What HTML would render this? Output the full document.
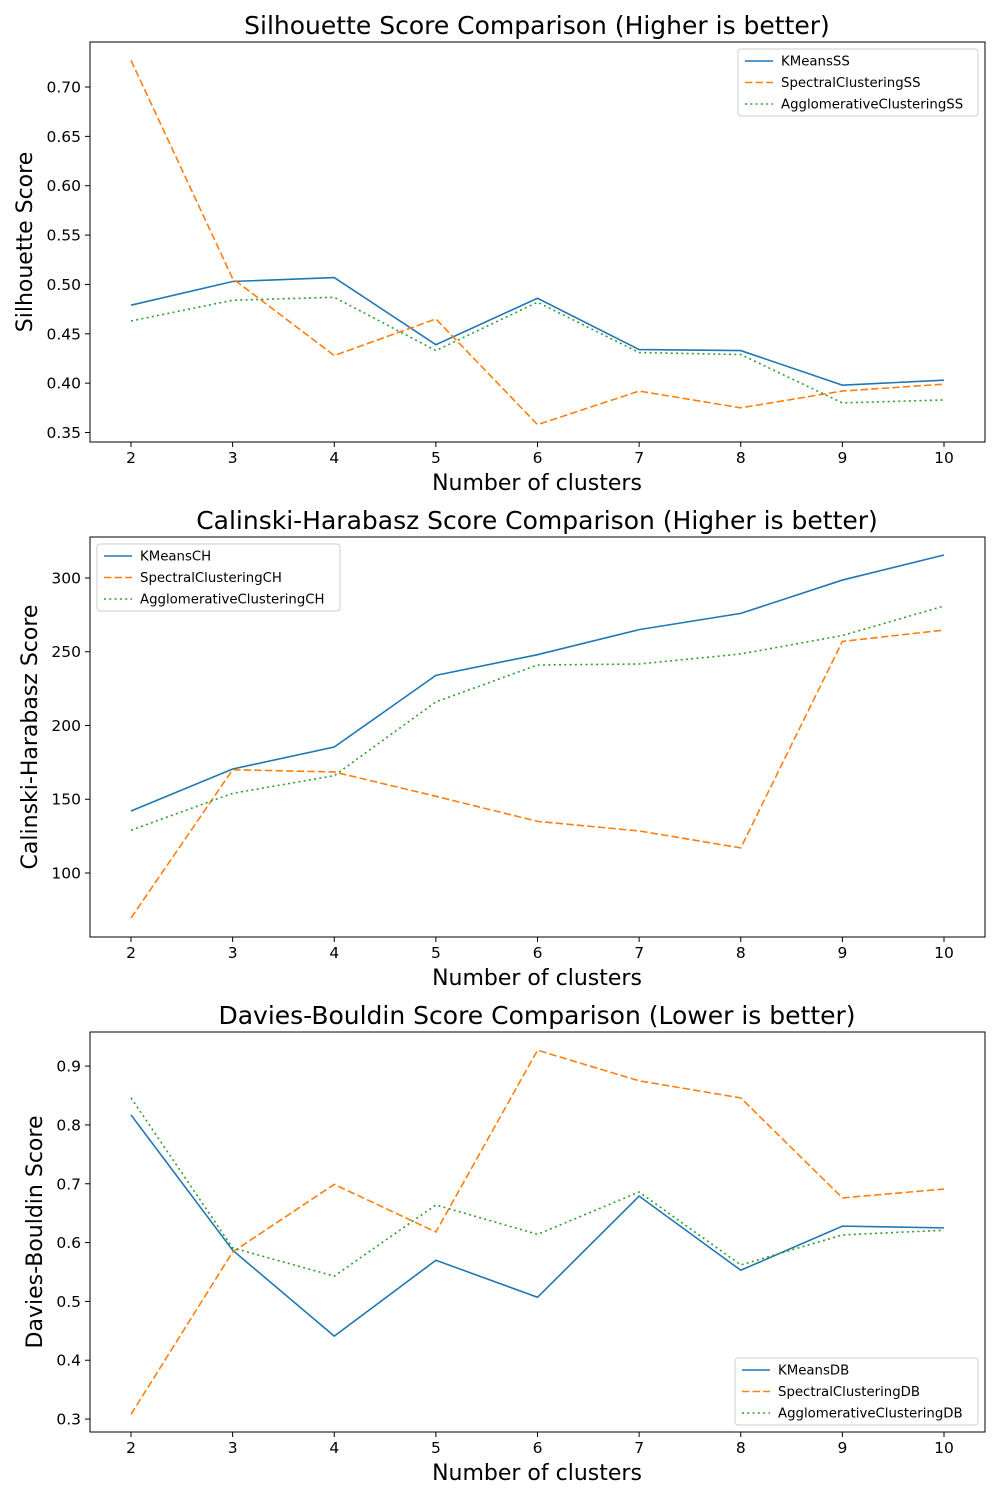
<!DOCTYPE html>
<html><head><meta charset="utf-8"><style>
body{margin:0;background:#fff;font-family:"Liberation Sans","DejaVu Sans",sans-serif}
svg text{font-family:"DejaVu Sans","Liberation Sans",sans-serif}
</style></head><body>
<svg id="fig" width="1000" height="1500" xmlns="http://www.w3.org/2000/svg"></svg>
<script>
const clusters=[2,3,4,5,6,7,8,9,10];
const ssKMeans=[0.479,0.503,0.507,0.439,0.486,0.434,0.433,0.398,0.403];
const ssSpectral=[0.727,0.506,0.428,0.465,0.358,0.392,0.375,0.392,0.399];
const ssAgglo=[0.463,0.484,0.487,0.433,0.482,0.431,0.429,0.380,0.383];
const chKMeans=[142,170.5,185.4,234,248,265,276,298.6,315.6];
const chSpectral=[69.5,170,168.5,152,135,128.5,117,257,264.7];
const chAgglo=[129,154,166,216,241,241.7,248.5,261,281];
const dbKMeans=[0.817,0.587,0.441,0.570,0.507,0.679,0.553,0.628,0.625];
const dbSpectral=[0.308,0.584,0.699,0.618,0.927,0.875,0.846,0.676,0.691];
const dbAgglo=[0.846,0.591,0.543,0.664,0.614,0.686,0.562,0.613,0.621];
const ssTicks=[0.35,0.40,0.45,0.50,0.55,0.60,0.65,0.70];
const chTicks=[100,150,200,250,300];
const dbTicks=[0.3,0.4,0.5,0.6,0.7,0.8,0.9];

const NS="http://www.w3.org/2000/svg";
const fig=document.getElementById('fig');
function mk(tag,attrs,parent){const e=document.createElementNS(NS,tag);for(const k in attrs)e.setAttribute(k,attrs[k]);(parent||fig).appendChild(e);return e;}
const colors=['#1f77b4','#ff7f0e','#2ca02c'];
const dashes=['','7.4,3.2','2,3.3'];
function chart(cfg){
  const L=90,R=985,T=cfg.top,B=cfg.top+400;
  const g=mk('g',{});
  
  
  const xs=v=>131+(v-2)*(944-131)/8;
  const ys=v=>B-(v-cfg.ymin)/(cfg.ymax-cfg.ymin)*(B-T);
  const t=mk('text',{x:537,y:T-8,'text-anchor':'middle','font-size':25},g);t.textContent=cfg.title;
  
  clusters.forEach(c=>{mk('line',{x1:xs(c),x2:xs(c),y1:B,y2:B+5,stroke:'#000'},g);
    const tx=mk('text',{x:xs(c),y:B+21,'text-anchor':'middle','font-size':15.5},g);tx.textContent=c;
    });
  cfg.ticks.forEach(v=>{mk('line',{x1:L-5,x2:L,y1:ys(v),y2:ys(v),stroke:'#000'},g);
    const ty=mk('text',{x:L-9,y:ys(v)+5.5,'text-anchor':'end','font-size':15.5},g);ty.textContent=cfg.fmt(v);
    });
  const xl=mk('text',{x:537,y:B+48,'text-anchor':'middle','font-size':22},g);xl.textContent='Number of clusters';
  
  const yl=mk('text',{x:0,y:0,'text-anchor':'middle','font-size':22,transform:`translate(${cfg.ylx},${(T+B)/2}) rotate(-90)`},g);yl.textContent=cfg.ylabel;
  
  cfg.series.forEach((s,i)=>{
    const p=mk('polyline',{points:s.map((v,j)=>xs(clusters[j])+','+ys(v)).join(' '),fill:'none',stroke:colors[i],'stroke-width':1.6,'stroke-dasharray':dashes[i]},g);
    
  });
  mk('rect',{x:L,y:T,width:R-L,height:B-T,fill:'none',stroke:'#000','stroke-width':1},g);
  const [lx,ly]=cfg.leg;
  const lg=mk('g',{},g);
  mk('rect',{x:lx,y:ly,width:cfg.lw,height:67,fill:'#fff',stroke:'#ccc',rx:3},lg);
  cfg.names.forEach((n,i)=>{const yy=ly+12+i*21.5;
    mk('line',{x1:lx+7,x2:lx+35,y1:yy,y2:yy,stroke:colors[i],'stroke-width':1.6,'stroke-dasharray':dashes[i]},lg);
    const e=mk('text',{x:lx+43,y:yy+4.5,'font-size':13.3},lg);e.textContent=n;
    });
}
chart({name:'silhouette-chart',top:42,ymin:0.3404,ymax:0.7456,ticks:ssTicks,fmt:v=>v.toFixed(2),
  title:'Silhouette Score Comparison (Higher is better)',ylabel:'Silhouette Score',ylx:32,
  series:[ssKMeans,ssSpectral,ssAgglo],names:['KMeansSS','SpectralClusteringSS','AgglomerativeClusteringSS'],leg:[738,49],lw:240});
chart({name:'calinski-chart',top:537,ymin:56.6,ymax:327.8,ticks:chTicks,fmt:v=>v,
  title:'Calinski-Harabasz Score Comparison (Higher is better)',ylabel:'Calinski-Harabasz Score',ylx:37,
  series:[chKMeans,chSpectral,chAgglo],names:['KMeansCH','SpectralClusteringCH','AgglomerativeClusteringCH'],leg:[97,544],lw:243});
chart({name:'davies-chart',top:1032,ymin:0.278,ymax:0.958,ticks:dbTicks,fmt:v=>v.toFixed(1),
  title:'Davies-Bouldin Score Comparison (Lower is better)',ylabel:'Davies-Bouldin Score',ylx:42,
  series:[dbKMeans,dbSpectral,dbAgglo],names:['KMeansDB','SpectralClusteringDB','AgglomerativeClusteringDB'],leg:[735,1358],lw:243});
</script>
</body></html>
